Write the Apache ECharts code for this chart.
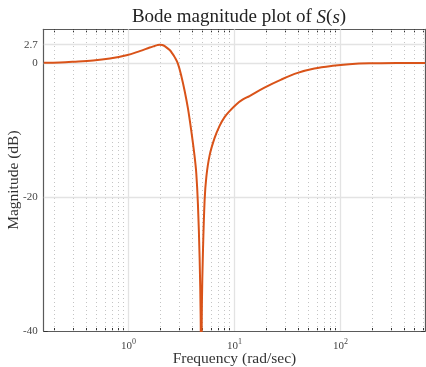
<!DOCTYPE html>
<html>
<head>
<meta charset="utf-8">
<script src="https://cdn.jsdelivr.net/npm/echarts@6/dist/echarts.min.js"></script>
<style>
html,body{margin:0;padding:0;background:#fff;}
#c{width:426px;height:367px;}
</style>
</head>
<body>
<div id="c"></div>
<script>
// Frequencies (rad/sec)
var freq = [0.159, 0.2255, 0.301, 0.464, 0.667, 0.957, 1.277, 1.587, 1.768, 1.87, 1.971, 2.08, 2.197, 2.448, 2.585, 2.729, 2.931, 3.156, 3.390, 3.641, 3.918, 4.21, 4.365, 4.52, 4.69, 4.80, 4.85, 4.93, 5.04, 5.23, 5.43, 5.83, 6.50, 7.24, 8.07, 8.99, 10.40, 11.92, 13.87, 19.2, 27.6, 39.5, 56.8, 84.5, 121, 187, 359, 631];
// Magnitude (dB)
var magDb = [0.0, 0.05, 0.15, 0.34, 0.64, 1.13, 1.75, 2.28, 2.52, 2.64, 2.7, 2.66, 2.5, 1.9, 1.42, 0.85, -0.15, -2.0, -4.2, -6.8, -10.2, -14, -16.5, -21, -29, -38, -50, -36, -28.4, -20.5, -17, -13.8, -11.2, -9.4, -8.1, -7.2, -6.2, -5.5, -4.95, -3.7, -2.5, -1.5, -0.85, -0.45, -0.22, -0.08, -0.02, -0.01];
var xMajor = [1, 10, 100];
var xMinor = [0.2,0.3,0.4,0.5,0.6,0.7,0.8,0.9,2,3,4,5,6,7,8,9,20,30,40,50,60,70,80,90,200,300,400,500,600];
var yTicks = [-40, -20, 0, 2.7];
var xMin = Math.pow(10, -0.8), xMax = Math.pow(10, 2.8);
var yMin = -40, yMax = 5;

var data = freq.map(function (f, i) { return [f, magDb[i]]; });
var allX = xMinor.concat(xMajor).sort(function(a,b){return a-b;});
var serif = '"Liberation Serif", "DejaVu Serif", serif';
var axisCol = '#5a5a5a';

function xAxisBase(pos, showLabel) {
  return {
    type: 'log', logBase: 10, min: xMin, max: xMax, position: pos,
    axisLine: { show: true, onZero: false, lineStyle: { color: axisCol, width: 1.2 } },
    axisTick: { show: true, inside: true, length: 3, customValues: allX, lineStyle: { color: '#333', width: 1 } },
    splitLine: { show: false }, minorSplitLine: { show: false },
    axisLabel: {
      show: showLabel, customValues: xMajor, margin: 8,
      formatter: function (v) { return '{b|10}{s|' + Math.round(Math.log10(v)) + '}'; },
      rich: {
        b: { fontFamily: serif, fontSize: 11, color: '#444', lineHeight: 14 },
        s: { fontFamily: serif, fontSize: 8, color: '#444', lineHeight: 14, padding: [0, 0, 9, 0] }
      }
    }
  };
}
function yAxisBase(pos, showLabel) {
  return {
    type: 'value', min: yMin, max: yMax, position: pos,
    axisLine: { show: true, onZero: false, lineStyle: { color: axisCol, width: 1.2 } },
    axisTick: { show: true, inside: true, length: 4, customValues: yTicks, lineStyle: { color: '#333' } },
    splitLine: { show: false },
    axisLabel: { show: showLabel, customValues: yTicks, fontFamily: serif, fontSize: 11, color: '#444', margin: 6 }
  };
}

var xa0 = xAxisBase('bottom', true);
xa0.name = 'Frequency (rad/sec)';
xa0.nameLocation = 'middle';
xa0.nameGap = 20;
xa0.nameMoveOverlap = false;
xa0.nameTextStyle = { fontFamily: serif, fontSize: 15.5, color: '#333' };
var ya0 = yAxisBase('left', true);
ya0.name = 'Magnitude (dB)';
ya0.nameLocation = 'middle';
ya0.nameGap = 22;
ya0.nameMoveOverlap = false;
ya0.nameTextStyle = { fontFamily: serif, fontSize: 15.5, color: '#333' };

var option = {
  animation: false,
  backgroundColor: '#fff',
  title: {
    text: '{a|Bode magnitude plot of }{i|S}{a|(}{i|s}{a|)}',
    left: 234, top: 3, textAlign: 'center',
    textStyle: {
      fontWeight: 'normal',
      rich: {
        a: { fontFamily: serif, fontSize: 19, color: '#222', fontWeight: 'normal' },
        i: { fontFamily: serif, fontSize: 19, color: '#222', fontStyle: 'italic', fontWeight: 'normal' }
      }
    }
  },
  grid: { left: 43.7, right: 0.8, top: 29.3, bottom: 36, outerBoundsMode: 'none', containLabel: false },
  xAxis: [xa0, xAxisBase('top', false)],
  yAxis: [ya0, yAxisBase('right', false)],
  series: [
    {
      type: 'line', data: [], silent: true,
      markLine: {
        silent: true, symbol: 'none', label: { show: false }, animation: false,
        lineStyle: { color: '#c4c4c4', type: [1, 3], width: 1 },
        data: xMinor.map(function (v) { return { xAxis: v }; })
      }
    },
    {
      type: 'line', data: [], silent: true,
      markLine: {
        silent: true, symbol: 'none', label: { show: false }, animation: false,
        lineStyle: { color: '#e3e3e3', type: 'solid', width: 1.3 },
        data: xMajor.map(function (v) { return { xAxis: v }; }).concat(
          yTicks.filter(function (v) { return v > yMin; }).map(function (v) { return { yAxis: v }; }))
      }
    },
    {
      type: 'line', data: data, showSymbol: false, smooth: 0.35, clip: true,
      lineStyle: { color: '#D95319', width: 2 }, z: 5
    }
  ]
};
echarts.init(document.getElementById('c')).setOption(option);
</script>
</body>
</html>
